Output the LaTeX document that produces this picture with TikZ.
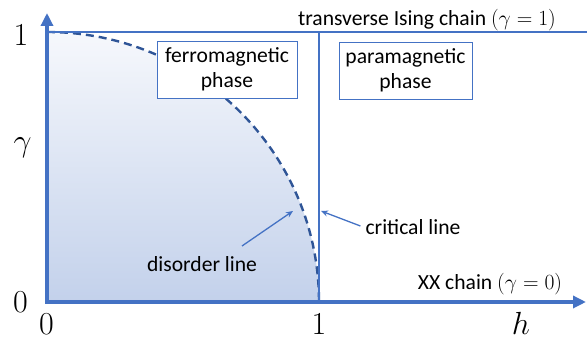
\RequirePackage{fix-cm}
\documentclass[tikz,border=0pt]{standalone}
\usepackage{fontspec}
\setmainfont{Carlito}
\usetikzlibrary{arrows.meta}
\definecolor{axisblue}{HTML}{4472C4}
\definecolor{darkblue}{HTML}{2F5597}
\definecolor{fillbot}{HTML}{C3D1EB}
\definecolor{filltop}{HTML}{F6F8FC}
\begin{document}
\begin{tikzpicture}[x=1pt,y=1pt,
 txt/.style={font=\fontsize{21.6}{26}\selectfont, inner sep=0pt},
 phasebox/.style={draw=axisblue, line width=0.9pt, fill=white, align=center, minimum height=57pt, inner sep=0pt, font=\fontsize{21.6}{25.5}\selectfont},
 mathlbl/.style={font=\fontsize{32}{32}\selectfont, inner sep=0pt, anchor=base},
 pointer/.style={axisblue, line width=1.3pt, -{Stealth[length=7pt,width=6pt]}},
 axisline/.style={axisblue, line width=4pt, line join=miter},
 thinline/.style={axisblue, line width=1.5pt}]
\useasboundingbox (0,0) rectangle (587,339);
\coordinate (O) at (47,37);
\coordinate (Ytop) at (47,307);
\coordinate (Yend) at (47,326);
\coordinate (Xend) at (586,37);
\coordinate (Rend) at (587,307);
\coordinate (C0) at (319,37);
\coordinate (C1) at (319,307);
% shaded region
\shade[top color=filltop, bottom color=fillbot] (O) -- (Ytop) arc[start angle=90, end angle=0, x radius=272, y radius=270] -- cycle;
% dashed disorder line
\draw[darkblue, line width=2.4pt, dash pattern=on 8pt off 5pt] (Ytop) arc[start angle=90, end angle=0, x radius=272, y radius=270];
% top line and critical line
\draw[thinline] (Ytop) -- (Rend);
\draw[thinline] (C0) -- (C1);
% axes
\draw[axisline, -{Triangle[length=13pt,width=12pt]}] (O) -- (Yend);
\draw[axisline, -{Triangle[length=13pt,width=12pt]}] (O) -- (Xend);
\fill[axisblue] (45,35) rectangle (49,39);
% boxes
\node[phasebox, minimum width=140pt] (ferro) at (227,269.5) {ferromagnetic\\phase};
\node[phasebox, minimum width=133pt] (para) at (405.5,268.5) {paramagnetic\\phase};
% axis labels
\node[mathlbl] (y1) at (21,293.5) {$1$};
\node[mathlbl] (y0) at (20.5,26) {$0$};
\node[mathlbl] (gam) at (22.5,187) {$\gamma$};
\node[mathlbl] (x0) at (46.5,4.5) {$0$};
\node[mathlbl] (x1) at (319,4.5) {$1$};
\node[mathlbl] (hl) at (521,4) {$h$};
% line labels
\node[txt] (ising) at (427,319) {transverse Ising chain $(\gamma=1)$};
\node[txt] (xx) at (490,55) {XX chain $(\gamma=0)$};
\node[txt] (crit) at (413,112) {critical line};
\node[txt] (dis) at (202,75) {disorder line};
\coordinate (cp) at (321,128);
\coordinate (dp) at (293,128);
\draw[pointer] ([xshift=-5pt,yshift=1pt]crit.west) -- (cp);
\draw[pointer] ([xshift=40pt,yshift=18pt]dis.center) -- (dp);
\end{tikzpicture}
\end{document}
